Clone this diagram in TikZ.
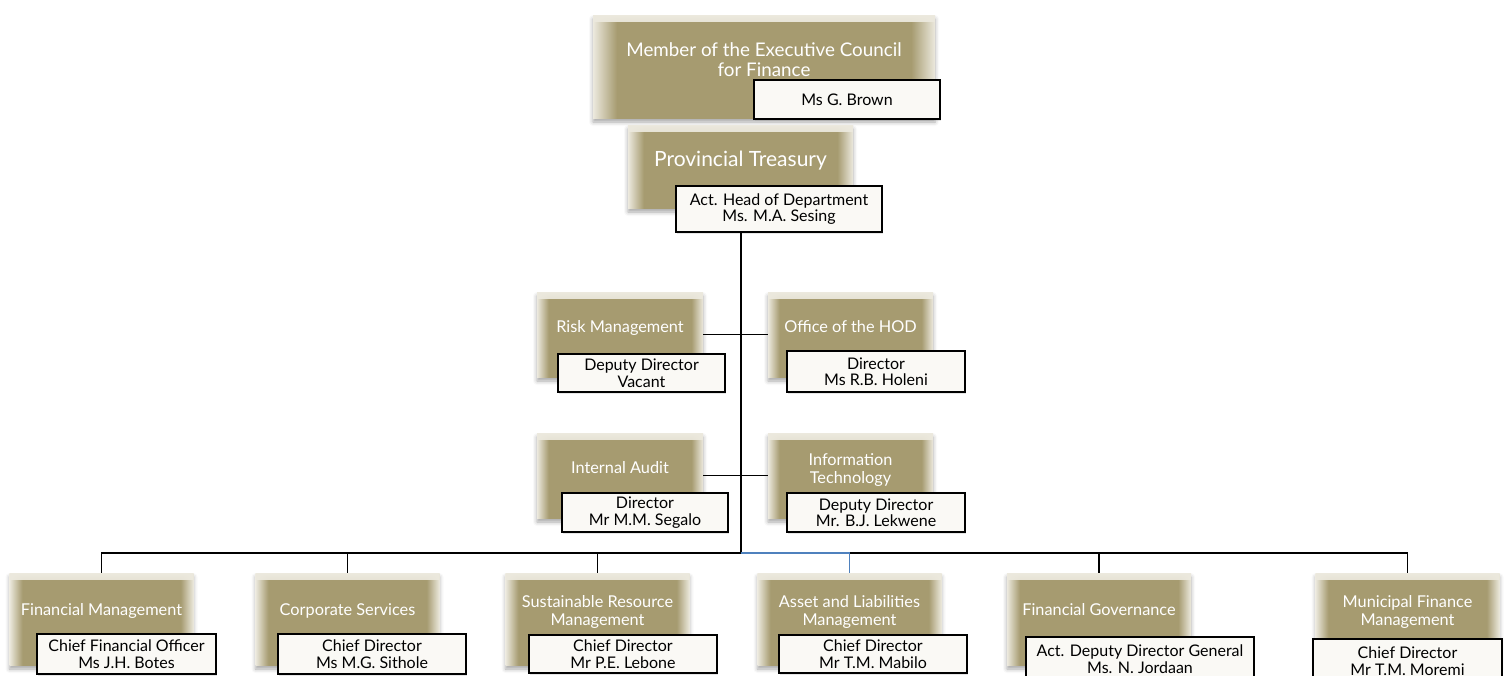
\documentclass[tikz,border=0pt]{standalone}
\usepackage{fontspec}
\setmainfont{Lato}
\usepackage{xcolor}
\usetikzlibrary{positioning,shadows,shadows.blur,fadings}
\definecolor{gold}{RGB}{166,155,112}
\definecolor{goldlt}{RGB}{236,233,222}
\definecolor{paper}{RGB}{250,249,245}
\definecolor{busblue}{RGB}{79,129,189}
\pgfdeclarehorizontalshading{goldbar}{100bp}{color(0bp)=(goldlt); color(25bp)=(goldlt); color(28.5bp)=(gold); color(71.5bp)=(gold); color(75bp)=(goldlt); color(100bp)=(goldlt)}
\tikzstyle{link} = [line width=1.4pt, draw=black]

\begin{document}
\begin{tikzpicture}[x=1pt, y=-1pt]
    \tikzstyle{unit} = [rectangle, shade, shading=goldbar, text=white, align=center,
        font=\fontsize{16.3}{18.5}\selectfont, text depth=16pt,
        blur shadow={shadow xshift=0pt, shadow yshift=-4pt, shadow opacity=35, shadow blur radius=4pt},
        path picture={\fill[goldlt, path fading=south]
            (path picture bounding box.north west) rectangle ([yshift=-7pt]path picture bounding box.north east);}]
    \tikzstyle{unitrow} = [unit, minimum width=184, minimum height=92, text depth=19pt]
    \tikzstyle{person} = [rectangle, draw=black, line width=1.3pt, fill=paper, text=black,
        align=center, inner sep=0pt, font=\fontsize{16}{16.5}\selectfont,
        drop shadow={shadow xshift=1pt, shadow yshift=-2pt, opacity=0.2}]
    \useasboundingbox (0,0) rectangle (1506,675);

    % Head
    \node [unit, minimum width=342, minimum height=103, text depth=13pt,
        font=\fontsize{18.8}{20}\selectfont] (mec) at (764,66.5)
        {Member of the Executive Council\\for Finance};
    \node [person, minimum width=186, minimum height=39] (mecname) at (847,99.5) {Ms G. Brown};
    \node [unit, minimum width=225, minimum height=83, text depth=15pt,
        font=\fontsize{21}{23}\selectfont] (treasury) at (740.5,166.5) {Provincial Treasury};
    \node [person, minimum width=206, minimum height=46] (hod) at (779,209)
        {Act. Head of Department\\Ms. M.A. Sesing};

    % Staff units
    \node [unit, minimum width=166, minimum height=85] (risk) at (620,334.5) {Risk Management};
    \node [person, minimum width=167, minimum height=38] (riskname) at (641.5,373)
        {Deputy Director\\Vacant};
    \node [unit, minimum width=165, minimum height=85] (ohod) at (850.5,334.5) {Office of the HOD};
    \node [person, minimum width=178, minimum height=41] (ohodname) at (876,371.5)
        {Director\\Ms R.B. Holeni};
    \node [unit, minimum width=166, minimum height=85] (audit) at (620,475.5) {Internal Audit};
    \node [person, minimum width=166, minimum height=39] (auditname) at (645,512.5)
        {Director\\Mr M.M. Segalo};
    \node [unit, minimum width=165, minimum height=85, text depth=14pt] (it) at (850.5,475.5)
        {Information\\Technology};
    \node [person, minimum width=178, minimum height=39] (itname) at (876,512.5)
        {Deputy Director\\Mr. B.J. Lekwene};

    % Branches
    \node [unitrow] (fm) at (101.5,619) {Financial Management};
    \node [person, minimum width=179, minimum height=40] (fmname) at (126.5,654)
        {Chief Financial Officer\\Ms J.H. Botes};
    \node [unitrow] (cs) at (347.5,619) {Corporate Services};
    \node [person, minimum width=188, minimum height=40] (csname) at (372,654)
        {Chief Director\\Ms M.G. Sithole};
    \node [unitrow, text depth=17pt] (srm) at (597.5,619) {Sustainable Resource\\Management};
    \node [person, minimum width=188, minimum height=38] (srmname) at (623,654)
        {Chief Director\\Mr P.E. Lebone};
    \node [unitrow, text depth=17pt] (alm) at (849.5,619) {Asset and Liabilities\\Management};
    \node [person, minimum width=188, minimum height=38] (almname) at (873,654)
        {Chief Director\\Mr T.M. Mabilo};
    \node [unitrow] (fg) at (1099,619) {Financial Governance};
    \node [person, minimum width=228, minimum height=44] (fgname) at (1140,659)
        {Act. Deputy Director General\\Ms. N. Jordaan};
    \node [unitrow, text depth=17pt] (mfm) at (1407.5,619) {Municipal Finance\\Management};
    \node [person, minimum width=189, minimum height=44] (mfmname) at (1407.5,661)
        {Chief Director\\Mr T.M. Moremi};

    % Lines
    \coordinate (bus) at (741,553);
    \draw [link, line width=1.7pt] (hod.south -| bus) -- (bus);
    \draw [link] (risk.east) -- (ohod.west);
    \draw [link] (audit.east) -- (it.west);
    \draw [link] (bus) -| (fm.north);
    \draw [link] (bus) -| (cs.north);
    \draw [link] (bus) -| (srm.north);
    \draw [link] (bus) -| (fg.north);
    \draw [link] (bus) -| (mfm.north);
    \draw [link, draw=busblue] (bus) -| (alm.north);

\end{tikzpicture}
\end{document}
